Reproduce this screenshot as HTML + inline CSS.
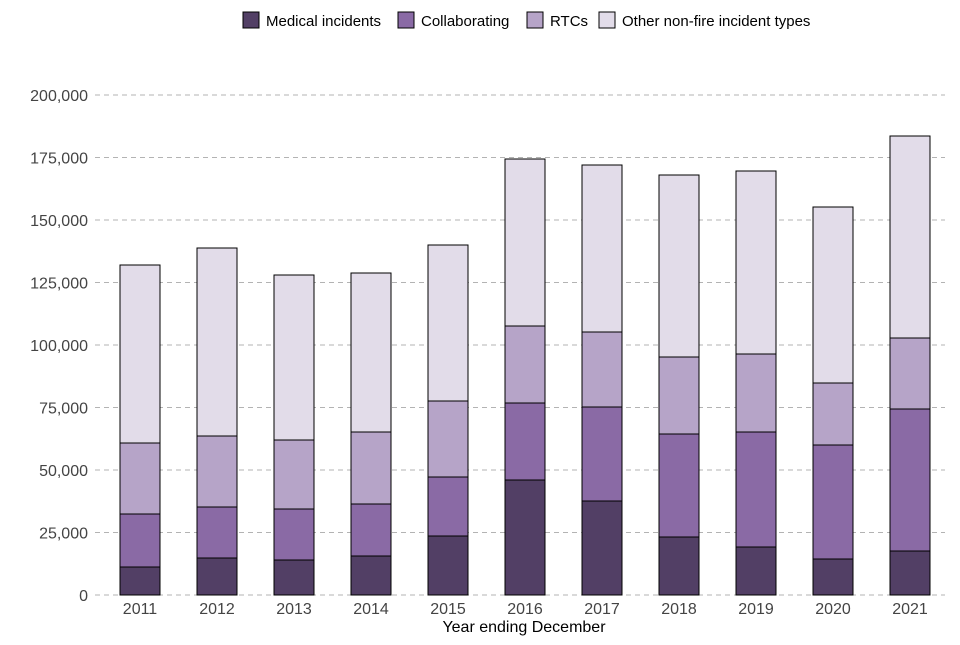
<!DOCTYPE html>
<html><head><meta charset="utf-8"><style>
body{margin:0;background:#fff;font-family:"Liberation Sans",Arial,sans-serif}
svg text{font-family:"Liberation Sans",Arial,sans-serif}
</style></head><body>
<svg id="chart" width="960" height="640" xmlns="http://www.w3.org/2000/svg">
<g id="legend"></g>
<g id="grid"></g>
<g id="bars"></g>
<g id="xaxis"></g>
<text x="524" y="632" text-anchor="middle" font-size="16" fill="#000">Year ending December</text>
</svg>
<script>
const categories=["2011","2012","2013","2014","2015","2016","2017","2018","2019","2020","2021"];
const medical=[11.2,14.8,14,15.6,23.6,46,37.6,23.2,19.2,14.4,17.6];
const collaborating=[21.2,20.4,20.4,20.8,23.6,30.8,37.6,41.2,46,45.6,56.8];
const rtcs=[28.4,28.4,27.6,28.8,30.4,30.8,30,30.8,31.2,24.8,28.4];
const other=[71.2,75.2,66,63.6,62.4,66.8,66.8,72.8,73.2,70.4,80.8];
const seriesNames=["Medical incidents","Collaborating","RTCs","Other non-fire incident types"];
const yTicks=[0,25000,50000,75000,100000,125000,150000,175000,200000];
const colors=["#523f65","#8a6aa5","#b6a4c8","#e2dce9"];
const NS="http://www.w3.org/2000/svg";
const y=v=>595-v/200000*500;
const x=i=>140+i*77;
function mk(tag,attrs,parent,txt){const e=document.createElementNS(NS,tag);for(const k in attrs)e.setAttribute(k,attrs[k]);if(txt!==undefined)e.textContent=txt;parent.appendChild(e);return e;}
const grid=document.getElementById('grid');
yTicks.forEach(t=>{
 const l=mk('line',{x1:95,x2:945,y1:y(t),y2:y(t),stroke:'#b3b3b3','stroke-dasharray':'5,4','stroke-width':1},grid);
 
 
 const tx=mk('text',{x:88,y:y(t)+6,'text-anchor':'end','font-size':16,fill:'#444'},grid,t.toLocaleString('en-US'));
 
 
});
const bars=document.getElementById('bars');
const series=[medical,collaborating,rtcs,other];
categories.forEach((c,i)=>{
 let base=0;
 series.forEach((s,k)=>{
  const v=s[i]*1000;
  const r=mk('rect',{x:x(i)-20,y:y(base+v),width:40,height:y(base)-y(base+v),fill:colors[k],stroke:'#000','stroke-width':1},bars);
  
  
  base+=v;
 });
});
const xa=document.getElementById('xaxis');
categories.forEach((c,i)=>{
 const t=mk('text',{x:x(i),y:614,'text-anchor':'middle','font-size':16,fill:'#444'},xa,c);
 
 
});
const lg=document.getElementById('legend');
const lx=[243,398,527,599];
seriesNames.forEach((n,k)=>{
 const r=mk('rect',{x:lx[k],y:12,width:16,height:16,fill:colors[k],stroke:'#000','stroke-width':1},lg);
 
 
 const t=mk('text',{x:lx[k]+23,y:26,'font-size':15,fill:'#000'},lg,n);
 
 
});
</script>
</body></html>
